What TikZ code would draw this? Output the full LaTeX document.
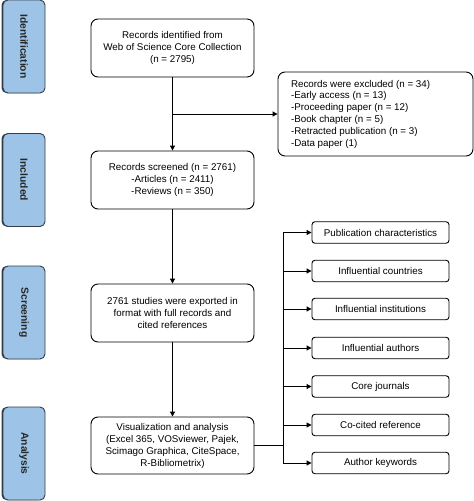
\documentclass[tikz,border=0pt]{standalone}
\usepackage{fontspec}
\setmainfont{Liberation Sans}
\usetikzlibrary{arrows.meta,positioning}
\definecolor{sidefill}{HTML}{9DC3E6}
\definecolor{sideedge}{HTML}{333D4A}
\tikzset{
  mainbox/.style={draw=black, line width=0.9pt, rounded corners=7pt, fill=white, align=center, font=\fontsize{9.8}{12}\selectfont, inner sep=0pt},
  smallbox/.style={draw=black, line width=0.9pt, rounded corners=3pt, fill=white, align=center, font=\fontsize{9.8}{11}\selectfont, inner sep=0pt, minimum width=137pt, minimum height=21.5pt},
  sidebox/.style={draw=sideedge, line width=0.9pt, rounded corners=5pt, fill=sidefill, minimum width=93pt, minimum height=42pt, font=\bfseries\fontsize{10.3}{12}\selectfont, text=black!85, rotate=-90, inner sep=0pt},
  sideshadow/.style={fill=sideedge, rounded corners=5pt, minimum width=93pt, minimum height=42pt, rotate=-90, inner sep=0pt},
  conn/.style={line width=1pt, -{Triangle[length=5pt,width=5pt]}},
  plain/.style={line width=1pt}
}
\begin{document}
\begin{tikzpicture}[x=1pt,y=-1pt]
\useasboundingbox (0,0) rectangle (474,501);
% side labels
\node[sideshadow] (s1s) at (22.5,46.5) {};
\node[sidebox] (s1) at (24,46.5) {Identification};
\node[sideshadow] (s2s) at (22.5,180) {};
\node[sidebox] (s2) at (24,180) {Included};
\node[sideshadow] (s3s) at (22.5,312.5) {};
\node[sidebox] (s3) at (24,312.5) {Screening};
\node[sideshadow] (s4s) at (22.5,453.5) {};
\node[sidebox] (s4) at (24,453.5) {Analysis};
% main column
\node[mainbox, minimum width=163pt, minimum height=58pt] (b1) at (172.5,48) {Records identified from\\Web of Science Core Collection\\(n = 2795)};
\node[mainbox, minimum width=195pt, minimum height=84pt, align=left, anchor=center] (ex) at (375.5,114) {\parbox{169pt}{\fontsize{9.8}{11.8}\selectfont Records were excluded (n = 34)\\-Early access (n = 13)\\-Proceeding paper (n = 12)\\-Book chapter (n = 5)\\-Retracted publication (n = 3)\\-Data paper (1)}};
\node[mainbox, minimum width=163pt, minimum height=58pt] (b2) at (172.5,180) {Records screened (n = 2761)\\-Articles (n = 2411)\\-Reviews (n = 350)};
\node[mainbox, minimum width=163pt, minimum height=58pt] (b3) at (172.5,313) {2761 studies were exported in\\format with full records and\\cited references};
\node[mainbox, minimum width=163pt, minimum height=57pt] (b4) at (172.5,445.5) {Visualization and analysis\\(Excel 365, VOSviewer, Pajek,\\Scimago Graphica, CiteSpace,\\R-Bibliometrix)};
% right column
\node[smallbox] (r1) at (380.5,232.5) {Publication characteristics};
\node[smallbox] (r2) at (380.5,271) {Influential countries};
\node[smallbox] (r3) at (380.5,309) {Influential institutions};
\node[smallbox] (r4) at (380.5,348) {Influential authors};
\node[smallbox] (r5) at (380.5,386.5) {Core journals};
\node[smallbox] (r6) at (380.5,425) {Co-cited reference};
\node[smallbox] (r7) at (380.5,463) {Author keywords};
% connectors
\coordinate (split) at (b1.south |- ex.west);
\draw[conn] (b1.south) -- (b2.north);
\draw[conn] (split) -- (ex.west);
\draw[conn] (b2.south) -- (b3.north);
\draw[conn] (b3.south) -- (b4.north);
\coordinate (bus) at (283,445.5);
\coordinate (bustop) at (283,232.5);
\coordinate (busbot) at (283,463);
\draw[plain] (b4.east) -- (bus);
\draw[plain] (bustop) -- (busbot);
\foreach \r in {r1,r2,r3,r4,r5,r6,r7}{
  \draw[conn] (bus |- \r.west) -- (\r.west);
}
\end{tikzpicture}
\end{document}
